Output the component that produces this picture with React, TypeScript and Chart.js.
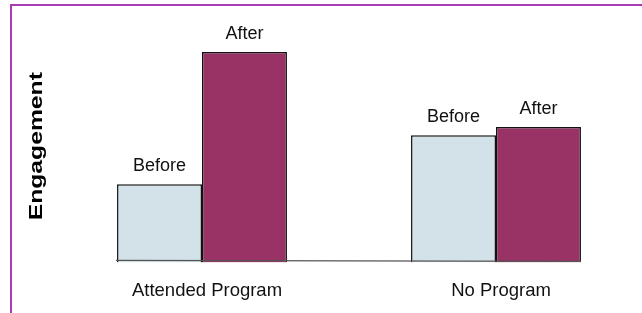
import React, { useEffect, useRef } from "react";
import { Chart, registerables } from "chart.js";

Chart.register(...registerables);

const categories = ["Attended Program", "No Program"];
const seriesLabels = ["Before", "After"];
const beforeValues = [32.5, 52.9];
const afterValues = [87.5, 56.3];
const yTitle = "Engagement";
const yMax = 100;

const FONT = "'Liberation Sans', Arial, sans-serif";

const barLabelPlugin = {
  id: "barLabels",
  afterDatasetsDraw(chart: any) {
    const ctx = chart.ctx;
    ctx.save();
    ctx.font = `18px ${FONT}`;
    ctx.fillStyle = "#111";
    ctx.textAlign = "center";
    ctx.textBaseline = "middle";
    chart.data.datasets.forEach((ds: any, i: number) => {
      const meta = chart.getDatasetMeta(i);
      meta.data.forEach((el: any) => {
        ctx.fillText(ds.label, el.x, el.y - 18);
      });
    });
    ctx.restore();
  },
};

const baselinePlugin = {
  id: "baseline",
  afterDatasetsDraw(chart: any) {
    const ctx = chart.ctx;
    const first = chart.getDatasetMeta(0).data[0] as any;
    const lastMeta = chart.getDatasetMeta(chart.data.datasets.length - 1);
    const last = lastMeta.data[lastMeta.data.length - 1] as any;
    const y0 = chart.scales.y.getPixelForValue(0);
    ctx.save();
    ctx.strokeStyle = "#555";
    ctx.lineWidth = 1.2;
    ctx.beginPath();
    ctx.moveTo(first.x - first.width / 2 - 1, y0 - 2);
    ctx.lineTo(last.x + last.width / 2, y0 - 1);
    ctx.stroke();
    ctx.restore();
  },
};

const yTitlePlugin = {
  id: "yTitleStretched",
  afterDraw(chart: any) {
    const ctx = chart.ctx;
    const area = chart.chartArea;
    ctx.save();
    ctx.translate(37, (area.top + area.bottom) / 2 + 4);
    ctx.rotate(-Math.PI / 2);
    ctx.scale(1.3, 1);
    ctx.font = `bold 19px ${FONT}`;
    ctx.fillStyle = "#000";
    ctx.textAlign = "center";
    ctx.textBaseline = "middle";
    ctx.fillText(yTitle, 0, 0);
    ctx.restore();
  },
};

export default function App() {
  const ref = useRef<HTMLCanvasElement | null>(null);
  useEffect(() => {
    if (!ref.current) return;
    const chart = new Chart(ref.current, {
      type: "bar",
      data: {
        labels: categories,
        datasets: [
          {
            label: seriesLabels[0],
            data: beforeValues,
            backgroundColor: "#d3e2e8",
            borderColor: "#111",
            borderWidth: 1.5,
            categoryPercentage: 0.578,
            barPercentage: 1,
          },
          {
            label: seriesLabels[1],
            data: afterValues,
            backgroundColor: "#993366",
            borderColor: "#111",
            borderWidth: 1.5,
            categoryPercentage: 0.578,
            barPercentage: 1,
          },
        ],
      },
      options: {
        responsive: false,
        animation: false,
        layout: { padding: { left: 55, right: 17, top: 22, bottom: 12.4 } },
        plugins: { legend: { display: false }, tooltip: { enabled: false } },
        scales: {
          x: {
            grid: { display: false, drawTicks: false },
            border: { display: false },
            ticks: {
              padding: 17,
              labelOffset: 5,
              color: "#111",
              font: { family: FONT, size: 18.5 },
            },
          },
          y: { display: false, min: 0, max: yMax },
        },
      },
      plugins: [baselinePlugin, barLabelPlugin, yTitlePlugin],
    });
    return () => chart.destroy();
  }, []);

  return (
    <div
      style={{
        position: "fixed",
        left: 0,
        top: 0,
        width: 642,
        height: 313,
        overflow: "hidden",
        background: "#fff",
      }}
    >
      <canvas
        ref={ref}
        width={660}
        height={331}
        style={{ position: "absolute", left: 0, top: 0, width: 660, height: 331 }}
      />
      <div
        style={{
          position: "absolute",
          left: 10,
          top: 4,
          width: 700,
          height: 400,
          borderTop: "2px solid #a83cb4",
          borderLeft: "2px solid #a83cb4",
          pointerEvents: "none",
        }}
      />
    </div>
  );
}
